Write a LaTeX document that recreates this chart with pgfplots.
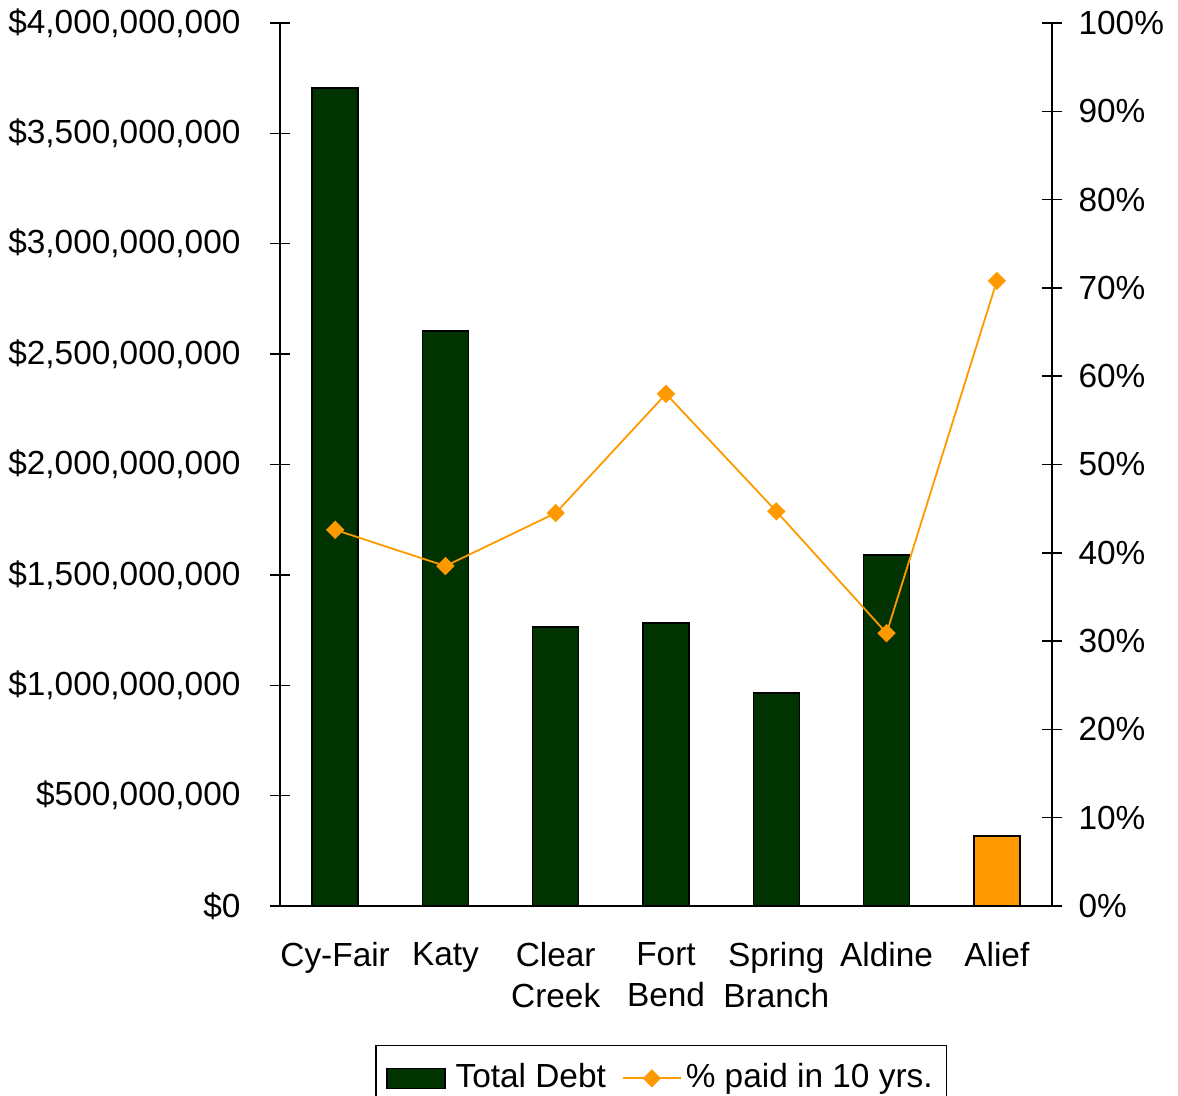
\documentclass[border=0pt]{standalone}
\usepackage{pgfplots}
\pgfplotsset{compat=1.18}
\usepackage{fontspec}
\setmainfont{Liberation Sans}
\definecolor{debtgreen}{HTML}{003300}
\definecolor{paidorange}{HTML}{FF9900}

\pgfplotsset{
  districtaxis/.style={
    scale only axis, width=386pt, height=441.5pt,
    xmin=-0.5, xmax=6.5,
    tick align=center,
    major tick length=10pt,
    every tick/.style={black, line width=0.75pt},
    axis line style={black, line width=0.75pt},
    tick label style={font=\fontsize{16.7}{20}\selectfont},
  },
  debtbar legend/.style={
    legend image code/.code={\draw[#1] (0pt,-5pt) rectangle (29pt,5pt);}},
  paidline legend/.style={
    legend image code/.code={%
      \draw[#1, draw=paidorange] (0pt,0pt) -- (29pt,0pt);
      \path[#1] plot coordinates {(14.5pt,0pt)};}},
}

\begin{document}
\fontsize{16.7}{20}\selectfont
\begin{tikzpicture}
% bars: total debt on the left axis
\begin{axis}[
  districtaxis,
  name=main,
  axis y line*=left, axis x line*=bottom,
  ymin=0, ymax=4e9,
  ytick={0,5e8,1e9,1.5e9,2e9,2.5e9,3e9,3.5e9,4e9},
  yticklabels={{\$0},{\$500,000,000},{\$1,000,000,000},{\$1,500,000,000},{\$2,000,000,000},
    {\$2,500,000,000},{\$3,000,000,000},{\$3,500,000,000},{\$4,000,000,000}},
  yticklabel style={xshift=-9pt, inner ysep=1pt},
  xtick={0,...,6},
  xticklabels={Cy-Fair,Katy,{Clear\\Creek},{Fort\\Bend},{Spring\\Branch},Aldine,Alief},
  xticklabel style={align=center, font=\fontsize{16.7}{20.5}\selectfont, yshift=-2.5pt},
  xtick style={draw=none},
  minor xtick={-0.5,0.5,...,6.5},
  minor tick length=10pt,
  ybar, bar width=23pt,
  legend columns=2,
  legend style={at={(0.494,-0.1574)}, anchor=north, draw=black, line width=0.75pt,
    font=\fontsize{16.7}{20}\selectfont, inner xsep=5pt, inner ysep=7pt,
    /tikz/column 1/.style={column sep=3pt},
    /tikz/column 2/.style={column sep=6pt},
    /tikz/column 3/.style={column sep=0pt}},
]
\addplot[bar shift=0pt, fill=debtgreen, draw=black, line width=0.75pt, debtbar legend]
  coordinates {(0,3.706e9) (1,2.605e9) (2,1.264e9) (3,1.282e9) (4,0.965e9) (5,1.590e9)};
\addlegendentry{Total Debt}
\addplot[bar shift=0pt, fill=paidorange, draw=black, line width=0.75pt, forget plot]
  coordinates {(6,0.317e9)};
\addlegendimage{paidorange, line width=0.9pt, mark=square*, mark size=2.8pt,
  mark options={rotate=45, fill=paidorange, draw=paidorange}, paidline legend}
\addlegendentry{\% paid in 10 yrs.}
\end{axis}

% line: share of debt paid within ten years on the right axis
\begin{axis}[
  districtaxis,
  axis y line*=right, axis x line=none,
  xtick=\empty,
  ymin=0, ymax=100,
  ytick={0,10,...,100},
  yticklabels={0\%,10\%,20\%,30\%,40\%,50\%,60\%,70\%,80\%,90\%,100\%},
  yticklabel style={anchor=west, xshift=2.5pt, inner ysep=1pt},
]
\addplot[paidorange, line width=0.9pt, mark=square*, mark size=2.8pt,
  mark options={rotate=45}]
  coordinates {(0,42.6) (1,38.5) (2,44.5) (3,58.0) (4,44.7) (5,30.9) (6,70.8)};
\end{axis}

\pgfresetboundingbox
\path (main.south west) ++(-140pt,-94.5pt) rectangle ([shift={(63pt,11.5pt)}]main.north east);
\end{tikzpicture}
\end{document}
